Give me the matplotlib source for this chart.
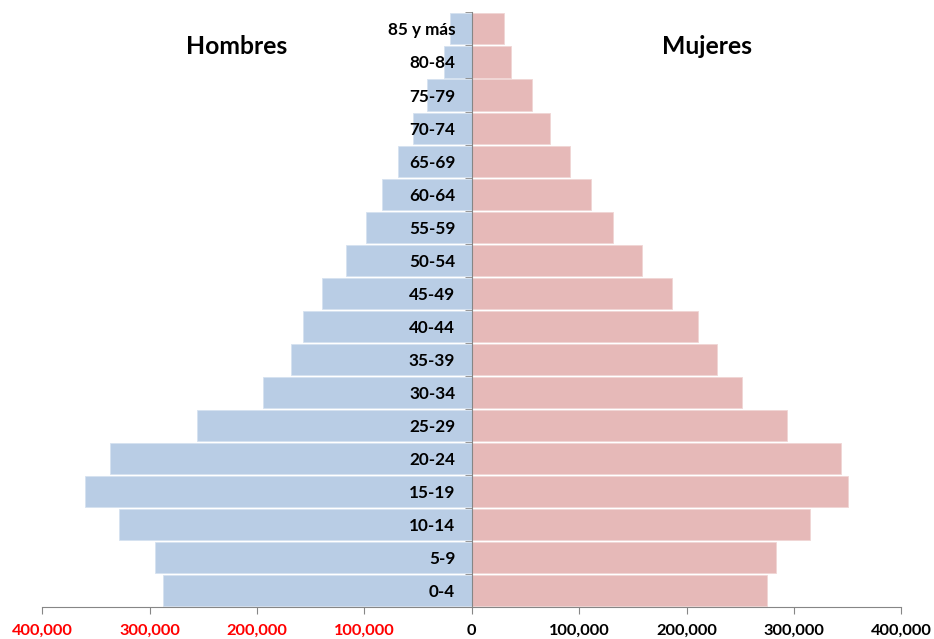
"""
Pirámide de población por grupo de edad: Hombres (izq.) / Mujeres (der.).
"""

import matplotlib
matplotlib.use('Agg')
import matplotlib.pyplot as plt
import numpy as np

plt.rcParams['font.family'] = ['Lato', 'DejaVu Sans']

# ── Datos ────────────────────────────────────────────────────────────────────
grupos = ['0-4', '5-9', '10-14', '15-19', '20-24', '25-29', '30-34', '35-39',
          '40-44', '45-49', '50-54', '55-59', '60-64', '65-69', '70-74',
          '75-79', '80-84', '85 y más']

hombres = [287200, 294900, 328800, 360500, 336900, 255500, 194500, 168400,
           157600, 139200, 117500, 98500, 83900, 68600, 55000, 41300,
           25700, 20500]

mujeres = [275200, 283300, 315000, 350400, 344200, 293500, 251600, 228300,
           210900, 186300, 158300, 131900, 111100, 91200, 72900, 55800,
           36800, 30300]

ticks_x = [-400000, -300000, -200000, -100000, 0, 100000, 200000, 300000, 400000]

COL_H = '#B9CDE5'
COL_M = '#E6B9B8'
GRIS  = '#868686'

# ── Figura ───────────────────────────────────────────────────────────────────
fig = plt.figure(figsize=(9.34, 6.39), dpi=100)
ax = fig.add_axes([0.0453, 0.0496, 0.9197, 0.931])

y = np.arange(len(grupos))
ax.barh(y, -np.array(hombres), height=0.94, color=COL_H,
        edgecolor='#D6E2F0', linewidth=0.6, zorder=1)
ax.barh(y, mujeres, height=0.94, color=COL_M,
        edgecolor='#F0D6D5', linewidth=0.6, zorder=1)

ax.set_xlim(-400000, 400000)
ax.set_ylim(-0.5, len(grupos) - 0.5)

# eje de categorías en x = 0
ax.spines['left'].set_position(('data', 0))
ax.spines['left'].set_color(GRIS)
ax.spines['left'].set_zorder(3)
ax.spines['right'].set_visible(False)
ax.spines['top'].set_visible(False)
ax.spines['bottom'].set_color(GRIS)

ax.set_yticks(y)
ax.set_yticklabels(grupos, fontsize=12.3, fontweight='bold', color='black')
ax.set_yticks(np.arange(-0.5, len(grupos), 1.0), minor=True)
ax.tick_params(axis='y', which='major', length=0, pad=12)
ax.tick_params(axis='y', which='minor', length=5, color=GRIS, direction='out')
for lbl in ax.get_yticklabels():
    lbl.set_zorder(4)

ax.set_xticks(ticks_x)
ax.set_xticklabels([f'{abs(v):,}' for v in ticks_x],
                   fontsize=11.8, fontweight='bold')
for v, lbl in zip(ticks_x, ax.get_xticklabels()):
    lbl.set_color('red' if v < 0 else 'black')
ax.tick_params(axis='x', length=5, color=GRIS, pad=7)

# títulos
ax.text(-219000, 16.47, 'Hombres', fontsize=17.8, fontweight='bold',
        ha='center', va='center')
ax.text(219500, 16.47, 'Mujeres', fontsize=17.8, fontweight='bold',
        ha='center', va='center')

plt.savefig('out.png', dpi=100)
plt.close(fig)
